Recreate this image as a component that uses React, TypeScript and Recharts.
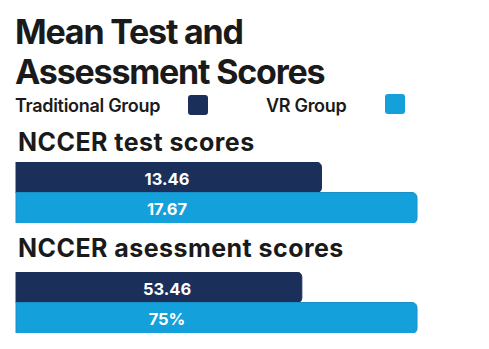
import React from "react";
import { BarChart, Bar, XAxis, YAxis, Cell, LabelList } from "recharts";

const groups = ["Traditional Group", "VR Group"];
const colors = ["#1b2f5b", "#14a0db"];
const strokes = ["#1b2f5b", "#1790c8"];
const testScores = [13.46, 17.67];
const testLabels = ["13.46", "17.67"];
const assessScores = [53.46, 75];
const assessLabels = ["53.46", "75%"];

const FONT = "Inter, 'Noto Sans', sans-serif";

const toData = (vals: number[], labels: string[]) =>
  groups.map((g, i) => ({ name: g, value: vals[i], label: labels[i] }));

const CenterLabel = (props: any) => {
  const { x, y, height, value } = props;
  return (
    <text
      x={x + 151}
      y={y + height / 2 + 1}
      textAnchor="middle"
      dominantBaseline="central"
      fill="#ffffff"
      fontFamily={FONT}
      fontWeight={700}
      fontSize={16.5}
    >
      {value}
    </text>
  );
};

const Group = ({ vals, labels, top }: { vals: number[]; labels: string[]; top: number }) => (
  <div style={{ position: "absolute", left: 0, top }}>
    <BarChart
      width={489}
      height={61}
      layout="vertical"
      data={toData(vals, labels)}
      margin={{ top: 0, right: 72, bottom: 0, left: 16 }}
      barCategoryGap={0}
    >
      <XAxis type="number" hide domain={[0, "dataMax"]} />
      <YAxis type="category" dataKey="name" hide />
      <Bar dataKey="value" isAnimationActive={false} radius={[0, 5, 5, 0]}>
        {groups.map((g, i) => (
          <Cell key={g} fill={colors[i]} stroke={strokes[i]} strokeWidth={1} />
        ))}
        <LabelList dataKey="label" content={CenterLabel} />
      </Bar>
    </BarChart>
  </div>
);

const heading: React.CSSProperties = {
  position: "absolute",
  left: 18,
  fontFamily: FONT,
  fontWeight: 700,
  fontSize: 25,
  color: "#1a1a1a",
  whiteSpace: "nowrap",
  letterSpacing: 0.45,
  lineHeight: "30px",
};

export default function App() {
  return (
    <div
      style={{
        position: "absolute",
        left: 0,
        top: 0,
        width: 489,
        height: 349,
        background: "#ffffff",
        overflow: "hidden",
      }}
    >
      <div
        style={{
          position: "absolute",
          left: 15,
          top: 12,
          fontFamily: FONT,
          fontWeight: 700,
          fontSize: 34,
          lineHeight: "39.5px",
          color: "#1a1a1a",
          letterSpacing: -1.2,
          whiteSpace: "nowrap",
        }}
      >
        Mean Test and
        <br />
        Assessment Scores
      </div>
      {groups.map((g, i) => (
        <React.Fragment key={g}>
          <div
            style={{
              position: "absolute",
              left: i === 0 ? 15 : 266,
              top: 95,
              fontFamily: FONT,
              fontWeight: 600,
              fontSize: 18,
              lineHeight: "22px",
              color: "#1a1a1a",
              letterSpacing: -0.3,
              whiteSpace: "nowrap",
            }}
          >
            {g}
          </div>
          <div
            style={{
              position: "absolute",
              left: i === 0 ? 188 : 385,
              top: i === 0 ? 95 : 94,
              width: 20,
              height: 20,
              borderRadius: 3,
              background: colors[i],
            }}
          />
        </React.Fragment>
      ))}
      <div style={{ ...heading, top: 127 }}>NCCER test scores</div>
      <Group vals={testScores} labels={testLabels} top={162} />
      <div style={{ ...heading, top: 233 }}>NCCER asessment scores</div>
      <Group vals={assessScores} labels={assessLabels} top={272} />
    </div>
  );
}
